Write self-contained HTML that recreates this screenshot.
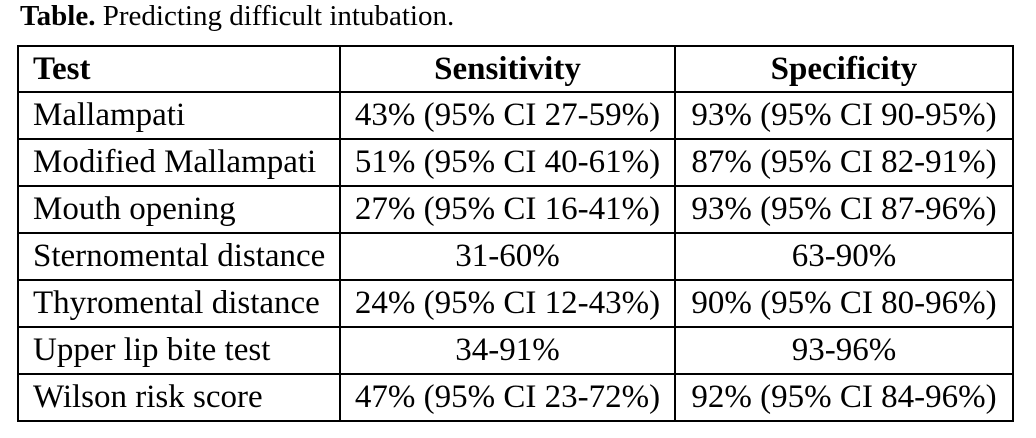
<!DOCTYPE html>
<html><head><style>
body{margin:0;width:1036px;height:438px;background:#fff;font-family:"Liberation Serif",serif;color:#000;position:relative;overflow:hidden}
.t{position:absolute;left:20px;top:0px;font-size:29px;white-space:nowrap}
table{position:absolute;left:17px;top:45px;border-collapse:collapse;font-size:33px}
td{border:2px solid #000;height:45px;padding:0 0 0 14px;white-space:nowrap;line-height:1}
td.c{text-align:center;padding:0}
th{border:2px solid #000;height:42px;font-weight:bold;text-align:center;line-height:1}
th.l{text-align:left;padding-left:14px}
</style></head><body>
<div class="t"><b>Table.</b> Predicting difficult intubation.</div>
<table>
<colgroup><col style="width:322px"><col style="width:335px"><col style="width:338px"></colgroup>
<tr><th class="l">Test</th><th>Sensitivity</th><th>Specificity</th></tr>
<tr><td>Mallampati</td><td class="c">43% (95% CI 27-59%)</td><td class="c">93% (95% CI 90-95%)</td></tr>
<tr><td>Modified Mallampati</td><td class="c">51% (95% CI 40-61%)</td><td class="c">87% (95% CI 82-91%)</td></tr>
<tr><td>Mouth opening</td><td class="c">27% (95% CI 16-41%)</td><td class="c">93% (95% CI 87-96%)</td></tr>
<tr><td>Sternomental distance</td><td class="c">31-60%</td><td class="c">63-90%</td></tr>
<tr><td>Thyromental distance</td><td class="c">24% (95% CI 12-43%)</td><td class="c">90% (95% CI 80-96%)</td></tr>
<tr><td>Upper lip bite test</td><td class="c">34-91%</td><td class="c">93-96%</td></tr>
<tr><td>Wilson risk score</td><td class="c">47% (95% CI 23-72%)</td><td class="c">92% (95% CI 84-96%)</td></tr>
</table>
</body></html>
